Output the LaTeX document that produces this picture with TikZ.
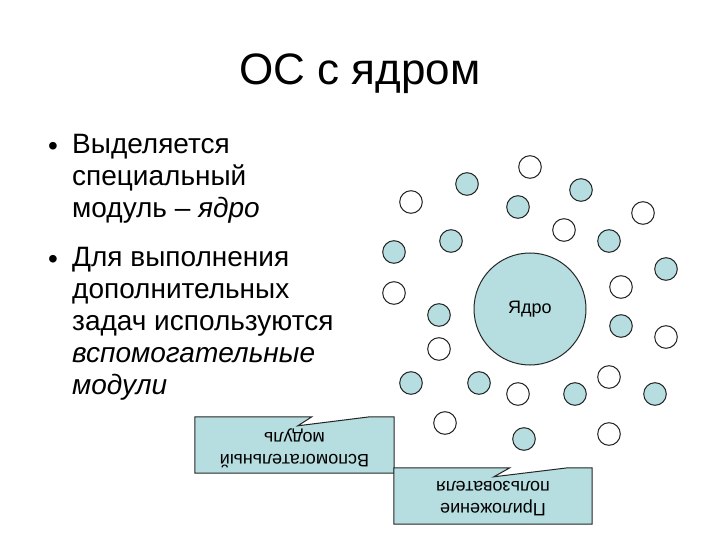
\documentclass[tikz,border=0pt]{standalone}
\usepackage{fontspec}
\setmainfont{Liberation Sans}
\usetikzlibrary{calc,positioning}

\definecolor{modfill}{RGB}{182,221,223}

\begin{document}
\begin{tikzpicture}[x=1pt,y=-1pt]
	\tikzstyle{module}=[circle, draw=black!85, line width=1pt, fill=modfill, minimum size=22.6pt, inner sep=0pt]
	\tikzstyle{app}=[circle, draw=black!85, line width=1pt, fill=white, minimum size=22.6pt, inner sep=0pt]
	\tikzstyle{kernel}=[circle, draw=black!85, line width=1pt, fill=modfill, minimum size=112pt, font=\fontsize{18}{22}\selectfont]
	\tikzstyle{callbox}=[minimum height=56pt, inner sep=0pt]
	\tikzstyle{callout}=[draw=black!85, line width=1pt, fill=modfill]
	\tikzstyle{calltext}=[font=\fontsize{18}{22}\selectfont, align=center, rotate=180]
	\tikzstyle{body}=[anchor=north west, align=left, inner sep=0pt, font=\fontsize{28}{32}\selectfont]
	\tikzstyle{dot}=[anchor=base, inner sep=0pt, font=\fontsize{28}{32}\selectfont]

	\useasboundingbox (0,0) rectangle (720,540);

	\node (title) [anchor=base, font=\fontsize{44}{50}\selectfont] at (360,85) {ОС с ядром};

	\node (dot1) [dot] at (53,156) {•};
	\node (item1) [body] at (72,134) {Выделяется\\специальный\\модуль – \textit{ядро}};
	\node (dot2) [dot] at (53,268) {•};
	\node (item2) [body] at (72,247) {Для выполнения\\дополнительных\\задач используются\\\textit{вспомогательные}\\\textit{модули}};

	\node (core) [kernel] at (530,309) {Ядро};

	\node (mod1) [module] at (467,184) {};
	\node (mod2) [module] at (581,190) {};
	\node (mod3) [module] at (518,207) {};
	\node (mod4) [module] at (451,241) {};
	\node (mod5) [module] at (609,241) {};
	\node (mod6) [module] at (394,252) {};
	\node (mod7) [module] at (666,269) {};
	\node (mod8) [module] at (439,315) {};
	\node (mod9) [module] at (621,326) {};
	\node (mod10) [module] at (411,383) {};
	\node (mod11) [module] at (479,383) {};
	\node (mod12) [module] at (575,394) {};
	\node (mod13) [module] at (655,394) {};
	\node (mod14) [module] at (524,439) {};

	\node (app1) [app] at (530,167) {};
	\node (app2) [app] at (411,202) {};
	\node (app3) [app] at (643,213) {};
	\node (app4) [app] at (564,230) {};
	\node (app5) [app] at (394,293) {};
	\node (app6) [app] at (621,287) {};
	\node (app7) [app] at (666,337) {};
	\node (app8) [app] at (439,349) {};
	\node (app9) [app] at (609,377) {};
	\node (app10) [app] at (518,394) {};
	\node (app11) [app] at (445,423) {};
	\node (app12) [app] at (609,434) {};

	% callouts, turned upside down
	\node (auxbox) [callbox, minimum width=199pt] at (294.5,445) {};
	\draw[callout] (auxbox.north west) -- ++(117,0) -- ++(-14,9) -- ++(72,-9) -- (auxbox.north east)
		-- (auxbox.south east) -- (auxbox.south west) -- cycle;
	\node (auxtext) [calltext] at ($(auxbox)+(0,3)$) {Вспомогательный\\модуль};

	\node (userbox) [callbox, minimum width=198pt] at (493,496) {};
	\draw[callout] (userbox.north west) -- ++(116,0) -- ++(-16,9) -- ++(74,-9) -- (userbox.north east)
		-- (userbox.south east) -- (userbox.south west) -- cycle;
	\node (usertext) [calltext] at ($(userbox)+(0,3)$) {Приложение\\пользователя};
\end{tikzpicture}
\end{document}
